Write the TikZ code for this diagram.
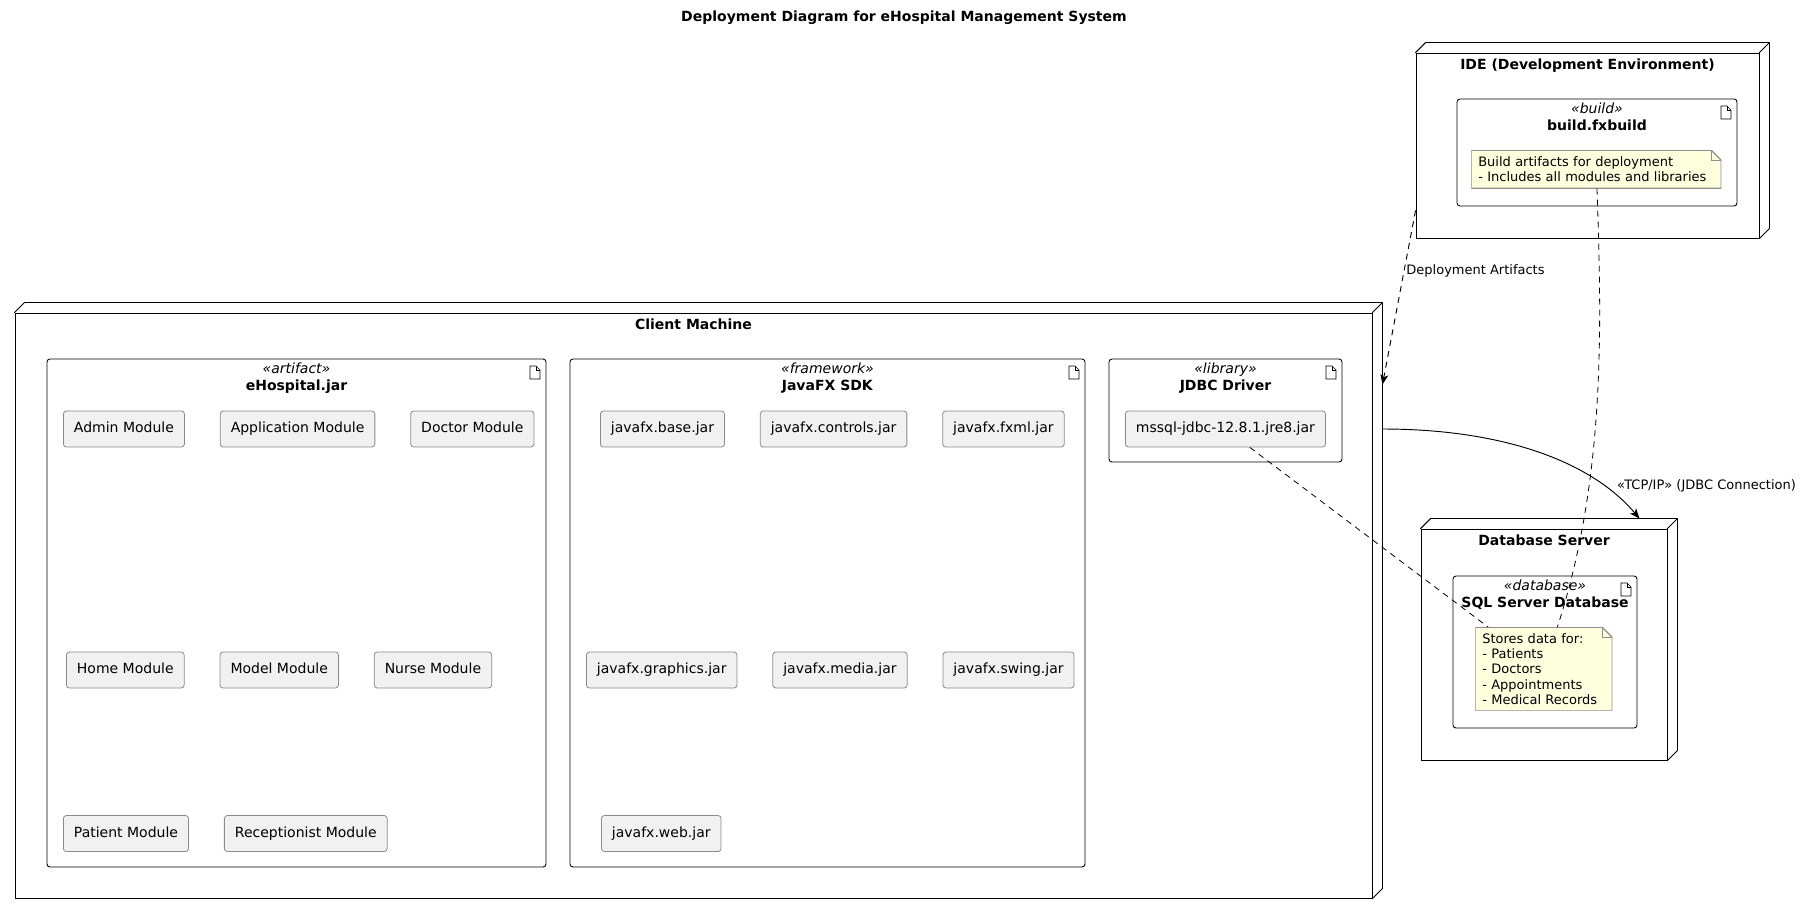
\documentclass[tikz,border=0pt]{standalone}
\usepackage{fontspec}
\setmainfont{DejaVu Sans}
\usepackage{tikz}
\usetikzlibrary{arrows.meta,calc,fit,positioning}
\definecolor{modfill}{HTML}{F1F1F1}
\definecolor{modgray}{HTML}{8A8A8A}
\definecolor{notefill}{HTML}{FEFFDD}
\definecolor{notegray}{HTML}{8E8E8E}
\tikzset{
	nodeedge/.style={line width=0.7pt, line cap=round},
	nodetitle/.style={anchor=north, inner sep=0pt, yshift=-4.8pt, font=\bfseries},
	devnode/.style={
		draw, rectangle, inner sep=0pt, line width=0.7pt,
		append after command={
			\pgfextra{\let\devnode\tikzlastnode}
			(\devnode.north west) edge[nodeedge] ([shift={(7.5pt,7.5pt)}]\devnode.north west)
			([shift={(7.5pt,7.5pt)}]\devnode.north west) edge[nodeedge] ([shift={(7.5pt,7.5pt)}]\devnode.north east)
			(\devnode.north east) edge[nodeedge] ([shift={(7.5pt,7.5pt)}]\devnode.north east)
			([shift={(7.5pt,7.5pt)}]\devnode.north east) edge[nodeedge] ([shift={(7.5pt,7.5pt)}]\devnode.south east)
			([shift={(7.5pt,7.5pt)}]\devnode.south east) edge[nodeedge] (\devnode.south east)
		},
		label={[nodetitle]north:#1}
	},
	artlabel/.style={anchor=north, inner sep=0pt, yshift=-3.3pt, align=center},
	artifact/.style 2 args={
		draw, fill=white, rectangle, rounded corners=2.25pt, inner sep=0pt, line width=0.65pt,
		path picture={
			\draw[sharp corners, line width=0.5pt]
				([shift={(-12pt,-5.25pt)}]path picture bounding box.north east) -- ++(4.5pt,0) -- ++(3pt,-3pt)
				-- ++(0,-6.75pt) -- ++(-7.5pt,0) -- cycle;
			\draw[sharp corners, line width=0.5pt]
				([shift={(-7.5pt,-5.25pt)}]path picture bounding box.north east) |- ++(3pt,-3pt);
		},
		label={[artlabel]north:{\textit{«#1»}\\\textbf{#2}}}
	},
	module/.style={
		draw=modgray, fill=modfill, rounded corners=2.25pt, line width=0.6pt,
		minimum height=27pt, inner xsep=7.9pt, inner ysep=0pt,
		text height=7.9pt, text depth=2.4pt
	},
	note/.style={
		fill=notefill, anchor=north west, align=left, inner xsep=5.25pt, inner ysep=4.8pt,
		font=\fontsize{9.75pt}{11.4pt}\selectfont,
		path picture={
			\fill[white] ([xshift=-7.5pt]path picture bounding box.north east) -| ([yshift=-7.5pt]path picture bounding box.north east) -- cycle;
			\draw[notegray, line width=1pt]
				(path picture bounding box.north west) -- ([xshift=-7.5pt]path picture bounding box.north east)
				-- ([yshift=-7.5pt]path picture bounding box.north east) -- (path picture bounding box.south east)
				-- (path picture bounding box.south west) -- cycle;
			\draw[notegray, line width=0.5pt] ([xshift=-7.5pt]path picture bounding box.north east) |- ([yshift=-7.5pt]path picture bounding box.north east);
		}
	},
	edgelabel/.style={font=\fontsize{9.75pt}{11.25pt}\selectfont, inner sep=1.5pt},
	deploy/.style={line width=0.7pt, dash pattern=on 4.5pt off 3.75pt, -{Stealth[length=7.5pt, width=6pt, inset=2pt]}},
	link/.style={line width=0.7pt, -{Stealth[length=7.5pt, width=6pt, inset=2pt]}},
	noteline/.style={line width=0.6pt, dash pattern=on 4.5pt off 3.75pt}
}

\begin{document}
\fontsize{10.5pt}{12.75pt}\selectfont
\begin{tikzpicture}[x=0.75pt, y=-0.75pt, node distance=26.25pt]
	\useasboundingbox (0,0) rectangle (1805,915);
	\node[font=\bfseries] (title) at (904,18) {Deployment Diagram for eHospital Management System};

	% nodes
	\node[devnode=IDE (Development Environment), fit={(1416,53) (1759,238)}] (ide) {};
	\node[devnode=Client Machine, fit={(15,313) (1372,898)}] (client) {};
	\node[devnode=Database Server, fit={(1421,529) (1667,760)}] (dbserver) {};

	% artifacts
	\node[artifact={build}{build.fxbuild}, fit={(1457,99) (1737,206)}] (buildfile) {};
	\node[artifact={artifact}{eHospital.jar}, fit={(47,359) (546,867)}] (ehospital) {};
	\node[artifact={framework}{JavaFX SDK}, fit={(570,359) (1085,867)}] (javafx) {};
	\node[artifact={library}{JDBC Driver}, fit={(1109,359) (1342,462)}] (jdbc) {};
	\node[artifact={database}{SQL Server Database}, fit={(1453,576) (1637,728)}] (sqldb) {};

	% eHospital.jar
	\node[module, anchor=west] (admin) at (63,429) {Admin Module};
	\node[module, right=of admin] (application) {Application Module};
	\node[module, right=of application] (doctor) {Doctor Module};
	\node[module, anchor=west] (home) at (66,670) {Home Module};
	\node[module, right=of home] (model) {Model Module};
	\node[module, right=of model] (nurse) {Nurse Module};
	\node[module, anchor=west] (patient) at (63,833.5) {Patient Module};
	\node[module, right=of patient] (receptionist) {Receptionist Module};

	% JavaFX SDK
	\node[module, anchor=west] (base) at (600,429) {javafx.base.jar};
	\node[module, right=of base] (controls) {javafx.controls.jar};
	\node[module, right=of controls] (fxml) {javafx.fxml.jar};
	\node[module, anchor=west] (graphics) at (586,670) {javafx.graphics.jar};
	\node[module, right=of graphics] (media) {javafx.media.jar};
	\node[module, right=of media] (swing) {javafx.swing.jar};
	\node[module, anchor=west] (web) at (601,833.5) {javafx.web.jar};

	% JDBC
	\node[module, anchor=west] (mssql) at (1125,429) {mssql-jdbc-12.8.1.jre8.jar};

	% notes
	\node[note, text width=177pt] (buildnote) at (1471,150) {Build artifacts for deployment\\- Includes all modules and libraries};
	\node[note, text width=92.25pt] (dbnote) at (1475,627) {Stores data for:\\- Patients\\- Doctors\\- Appointments\\- Medical Records};

	% connectors
	\draw[deploy] ([yshift=21pt]ide.south west) -- node[pos=0.35, anchor=west, edgelabel] {Deployment Artifacts} ([shift={(7.5pt,-54pt)}]client.north east);
	\draw[link] ($(client.east |- mssql)+(7.5pt,0)$) .. controls (1500,429) and (1590,460) .. ([shift={(-21pt,7.5pt)}]dbserver.north east)
		node[pos=0.85, anchor=south west, edgelabel] {«TCP/IP» (JDBC Connection)};
	\draw[noteline] (mssql) -- (dbnote);
	\draw[noteline] (buildnote) .. controls (1602,330) and (1605,480) .. (dbnote);
\end{tikzpicture}
\end{document}
